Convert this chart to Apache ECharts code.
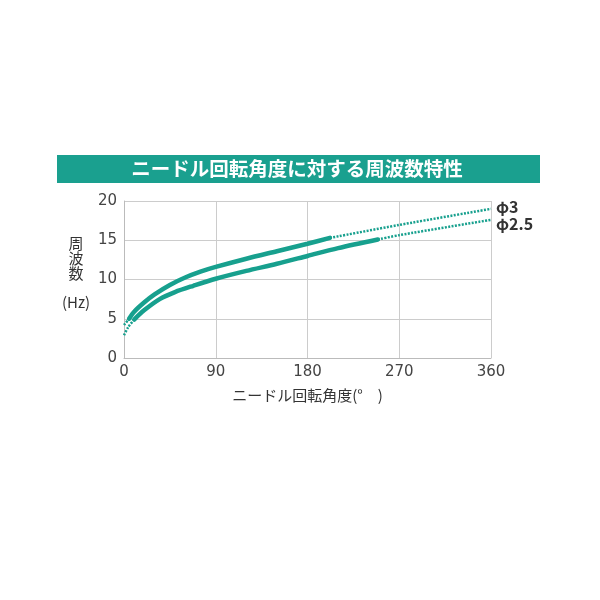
<!DOCTYPE html>
<html>
<head>
<meta charset="utf-8">
<script src="https://cdn.jsdelivr.net/npm/echarts@6/dist/echarts.min.js"></script>
<style>
  html, body { margin: 0; padding: 0; background: #fff; }
  #chart { width: 600px; height: 600px; }
</style>
</head>
<body>
<div id="chart"></div>
<script>
// ニードル回転角度に対する周波数特性
var titleText = 'ニードル回転角度に対する周波数特性';
var xName = 'ニードル回転角度(°　)';
var xTicks = [0, 90, 180, 270, 360];
var yTicks = [0, 5, 10, 15, 20];

// φ3 : measured (solid) and extrapolated (dotted)
var phi3Angle = [5, 10, 20, 30, 45, 60, 75, 90, 120, 150, 180, 202];
var phi3Freq = [5.0, 5.9, 7.1, 8.1, 9.3, 10.25, 11.0, 11.6, 12.65, 13.6, 14.55, 15.3];
var phi3StartAngle = [0, 5];
var phi3StartFreq = [4.2, 5.0];
var phi3EndAngle = [202, 270, 360];
var phi3EndFreq = [15.3, 16.95, 19.0];

// φ2.5
var phi25Angle = [10, 20, 35, 50, 68, 90, 120, 150, 180, 210, 249];
var phi25Freq = [4.9, 6.1, 7.5, 8.4, 9.2, 10.1, 11.1, 12.0, 13.0, 14.0, 15.1];
var phi25StartAngle = [0, 4, 10];
var phi25StartFreq = [2.9, 3.9, 4.9];
var phi25EndAngle = [249, 270, 360];
var phi25EndFreq = [15.1, 15.65, 17.6];

var lineColor = '#17a08e';
var font = '"Noto Sans CJK JP", "DejaVu Sans", sans-serif';
var numFont = '"DejaVu Sans", sans-serif';

function pairs(xs, ys) {
    return xs.map(function (x, i) { return [x, ys[i]]; });
}

function solid(name, xs, ys) {
    return {
        name: name,
        type: 'line',
        data: pairs(xs, ys),
        smooth: 0.3,
        showSymbol: false,
        silent: true,
        lineStyle: { color: lineColor, width: 4.5, cap: 'round' }
    };
}

function dotted(name, xs, ys, label, labelOffset) {
    var s = {
        name: name,
        type: 'line',
        data: pairs(xs, ys),
        smooth: 0.3,
        showSymbol: false,
        silent: true,
        lineStyle: { color: lineColor, width: 2.5, type: [2, 1.4] }
    };
    if (label) {
        s.endLabel = {
            show: true,
            formatter: name,
            distance: 5,
            offset: labelOffset,
            color: '#333',
            fontWeight: 'bold',
            fontSize: 16,
            fontFamily: font
        };
    }
    return s;
}

var myChart = echarts.init(document.getElementById('chart'));

var option = {
    backgroundColor: '#fff',
    animation: false,
    textStyle: { fontFamily: font },
    graphic: [
        {
            type: 'rect',
            shape: { x: 57, y: 155, width: 483, height: 28 },
            style: { fill: '#1aa08f' }
        },
        {
            type: 'text',
            x: 297,
            y: 169,
            style: {
                text: titleText,
                fill: '#fff',
                font: 'bold 19.5px ' + font,
                textAlign: 'center',
                textVerticalAlign: 'middle'
            }
        }
    ],
    grid: {
        left: 124,
        right: 109,
        top: 201,
        bottom: 242
    },
    xAxis: {
        type: 'value',
        min: xTicks[0],
        max: xTicks[xTicks.length - 1],
        interval: 90,
        name: xName,
        nameLocation: 'middle',
        nameGap: 30,
        nameTextStyle: { color: '#333', fontSize: 15, fontFamily: font },
        axisLine: { lineStyle: { color: '#bbb', width: 1 } },
        axisTick: { show: false },
        axisLabel: { color: '#444', fontSize: 15, fontFamily: numFont, margin: 7 },
        splitLine: { lineStyle: { color: '#ccc', width: 1 } }
    },
    yAxis: {
        type: 'value',
        min: yTicks[0],
        max: yTicks[yTicks.length - 1],
        interval: 5,
        name: '{a|周}\n{a|波}\n{a|数}\n{b|(Hz)}',
        nameLocation: 'middle',
        nameRotate: 0,
        nameGap: 48,
        nameTextStyle: {
            align: 'center',
            color: '#333',
            fontSize: 15,
            rich: {
                a: { fontSize: 15, lineHeight: 15, color: '#333', align: 'center' },
                b: { fontSize: 15, lineHeight: 42, color: '#333', align: 'center' }
            }
        },
        axisLine: { show: true, lineStyle: { color: '#bbb', width: 1 } },
        axisTick: { show: false },
        axisLabel: { color: '#444', fontSize: 15, fontFamily: numFont, margin: 7 },
        splitLine: { lineStyle: { color: '#ccc', width: 1 } }
    },
    series: [
        dotted('φ3 start', phi3StartAngle, phi3StartFreq),
        solid('φ3 measured', phi3Angle, phi3Freq),
        dotted('φ3', phi3EndAngle, phi3EndFreq, true, [0, -2]),
        dotted('φ2.5 start', phi25StartAngle, phi25StartFreq),
        solid('φ2.5 measured', phi25Angle, phi25Freq),
        dotted('φ2.5', phi25EndAngle, phi25EndFreq, true, [0, 4])
    ]
};

myChart.setOption(option);
</script>
</body>
</html>
